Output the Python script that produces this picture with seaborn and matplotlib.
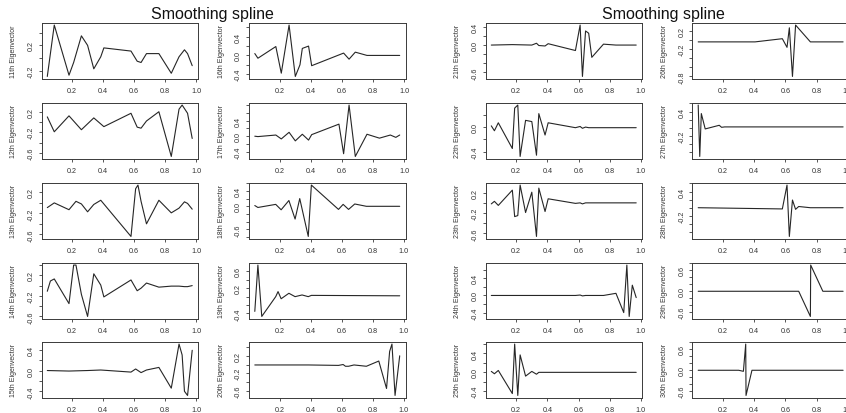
import matplotlib
matplotlib.use("Agg")
import matplotlib.pyplot as plt
import seaborn as sns

# ---------------- data ----------------
x_ticks = [0.2, 0.4, 0.6, 0.8, 1.0]
tick_grid = [-0.8, -0.6, -0.4, -0.2, 0.0, 0.2, 0.4, 0.6, 0.8]
title_text = "Smoothing spline"

x11 = [0.04, 0.085, 0.18, 0.21, 0.26, 0.30, 0.34, 0.385, 0.405, 0.58, 0.62, 0.645, 0.68, 0.76, 0.84, 0.89, 0.925, 0.945, 0.975]
y11 = [-0.29, 0.52, -0.27, -0.07, 0.35, 0.20, -0.17, 0.02, 0.16, 0.11, -0.05, -0.07, 0.07, 0.07, -0.24, 0.02, 0.13, 0.07, -0.12]

x12 = [0.04, 0.085, 0.18, 0.26, 0.34, 0.405, 0.58, 0.62, 0.645, 0.68, 0.76, 0.84, 0.89, 0.91, 0.945, 0.975]
y12 = [0.10, -0.19, 0.12, -0.15, 0.08, -0.09, 0.17, -0.10, -0.12, 0.02, 0.20, -0.67, 0.25, 0.33, 0.17, -0.32]

x13 = [0.04, 0.085, 0.18, 0.225, 0.26, 0.30, 0.34, 0.385, 0.58, 0.61, 0.625, 0.645, 0.68, 0.76, 0.84, 0.89, 0.925, 0.945, 0.975]
y13 = [-0.09, 0.0, -0.13, 0.03, -0.02, -0.17, -0.03, 0.05, -0.64, 0.27, 0.34, 0.03, -0.40, 0.05, -0.19, -0.10, 0.02, -0.01, -0.12]

x14 = [0.04, 0.06, 0.085, 0.18, 0.21, 0.225, 0.26, 0.30, 0.34, 0.385, 0.405, 0.58, 0.62, 0.645, 0.68, 0.76, 0.84, 0.89, 0.925, 0.945, 0.975]
y14 = [-0.11, 0.09, 0.13, -0.35, 0.40, 0.40, -0.17, -0.60, 0.23, 0.01, -0.22, 0.11, -0.10, -0.05, 0.05, -0.03, -0.01, -0.01, -0.02, -0.02, 0.0]

x15 = [0.04, 0.18, 0.30, 0.385, 0.58, 0.61, 0.645, 0.68, 0.76, 0.84, 0.89, 0.91, 0.925, 0.945, 0.975]
y15 = [0.0, -0.01, 0.0, 0.01, -0.03, 0.03, -0.04, 0.01, 0.06, -0.34, 0.51, 0.30, -0.40, -0.48, 0.39]

x16 = [0.04, 0.06, 0.175, 0.21, 0.26, 0.30, 0.33, 0.345, 0.385, 0.405, 0.61, 0.645, 0.685, 0.76, 0.97]
y16 = [0.04, -0.06, 0.19, -0.38, 0.65, -0.45, -0.20, 0.15, 0.20, -0.22, 0.05, -0.08, 0.07, 0.0, 0.0]

x17 = [0.04, 0.06, 0.175, 0.21, 0.26, 0.30, 0.345, 0.385, 0.405, 0.58, 0.61, 0.645, 0.685, 0.76, 0.84, 0.91, 0.945, 0.97]
y17 = [0.0, -0.01, 0.03, -0.07, 0.10, -0.12, 0.05, -0.10, 0.04, 0.31, -0.45, 0.80, -0.52, 0.05, -0.05, 0.03, -0.03, 0.03]

x18 = [0.04, 0.06, 0.175, 0.21, 0.26, 0.30, 0.33, 0.385, 0.405, 0.58, 0.61, 0.645, 0.685, 0.76, 0.975]
y18 = [0.02, -0.03, 0.05, -0.09, 0.15, -0.33, 0.20, -0.78, 0.55, -0.08, 0.05, -0.08, 0.06, 0.0, 0.0]

x19 = [0.04, 0.06, 0.085, 0.175, 0.19, 0.21, 0.26, 0.30, 0.345, 0.385, 0.405, 0.975]
y19 = [-0.35, 0.75, -0.47, 0.0, 0.12, -0.05, 0.08, 0.0, 0.04, 0.0, 0.03, 0.02]

x20 = [0.04, 0.385, 0.58, 0.61, 0.625, 0.645, 0.68, 0.76, 0.84, 0.89, 0.91, 0.925, 0.945, 0.975]
y20 = [-0.01, -0.01, -0.02, 0.0, -0.04, -0.04, -0.01, -0.04, 0.08, -0.55, 0.30, 0.47, -0.71, 0.20]

x21 = [0.04, 0.175, 0.30, 0.33, 0.345, 0.385, 0.405, 0.58, 0.61, 0.625, 0.645, 0.665, 0.685, 0.76, 0.84, 0.97]
y21 = [0.0, 0.01, 0.0, 0.04, -0.01, -0.02, 0.03, -0.12, 0.44, -0.69, 0.31, 0.26, -0.27, 0.02, 0.0, 0.0]

x22 = [0.04, 0.06, 0.085, 0.175, 0.19, 0.21, 0.225, 0.26, 0.30, 0.33, 0.345, 0.385, 0.405, 0.58, 0.61, 0.625, 0.645, 0.665, 0.97]
y22 = [0.02, -0.06, 0.07, -0.35, 0.31, 0.36, -0.48, 0.11, 0.09, -0.46, 0.22, -0.13, 0.07, -0.01, 0.01, -0.02, 0.0, -0.01, -0.01]

x23 = [0.04, 0.06, 0.085, 0.175, 0.19, 0.21, 0.225, 0.26, 0.30, 0.33, 0.345, 0.385, 0.405, 0.58, 0.61, 0.625, 0.645, 0.97]
y23 = [-0.02, 0.03, -0.05, 0.25, -0.27, -0.25, 0.35, -0.19, 0.21, -0.66, 0.29, -0.17, 0.08, -0.01, 0.0, -0.02, 0.0, 0.0]

x24 = [0.04, 0.58, 0.61, 0.625, 0.645, 0.665, 0.76, 0.84, 0.89, 0.91, 0.925, 0.945, 0.97]
y24 = [0.0, 0.0, 0.01, -0.01, 0.0, 0.0, 0.0, 0.05, -0.40, 0.71, -0.49, 0.24, -0.05]

x25 = [0.04, 0.06, 0.085, 0.175, 0.19, 0.21, 0.225, 0.26, 0.30, 0.33, 0.345, 0.385, 0.97]
y25 = [0.02, -0.03, 0.04, -0.45, 0.60, -0.49, 0.37, -0.08, 0.02, -0.04, 0.0, 0.0, 0.0]

x26 = [0.04, 0.405, 0.58, 0.61, 0.625, 0.645, 0.665, 0.76, 0.97]
y26 = [-0.04, -0.04, 0.03, -0.16, 0.27, -0.80, 0.33, -0.04, -0.04]

x27 = [0.04, 0.05, 0.06, 0.085, 0.175, 0.19, 0.21, 0.97]
y27 = [0.56, -0.71, 0.35, -0.03, 0.06, 0.01, 0.02, 0.02]

x28 = [0.04, 0.58, 0.61, 0.625, 0.645, 0.665, 0.685, 0.76, 0.97]
y28 = [0.0, -0.03, 0.56, -0.71, 0.19, -0.04, 0.03, 0.0, 0.0]

x29 = [0.04, 0.685, 0.76, 0.762, 0.84, 0.97]
y29 = [0.0, 0.0, -0.72, 0.75, 0.0, 0.0]

x30 = [0.04, 0.30, 0.33, 0.345, 0.347, 0.385, 0.97]
y30 = [0.0, 0.0, -0.03, 0.75, -0.72, 0.0, 0.0]

labels_shown = {
    11: [-0.2, 0.2], 12: [-0.6, -0.2, 0.2], 13: [-0.6, -0.2, 0.2], 14: [-0.6, -0.2, 0.2],
    15: [-0.4, 0.0, 0.4], 16: [-0.4, 0.0, 0.4], 17: [-0.4, 0.0, 0.4], 18: [-0.6, 0.0, 0.4],
    19: [-0.4, 0.2, 0.6], 20: [-0.6, -0.2, 0.2],
    21: [-0.6, 0.0, 0.4], 22: [-0.4, 0.0, 0.4], 23: [-0.6, -0.2, 0.2], 24: [-0.4, 0.0, 0.4],
    25: [-0.4, 0.0, 0.4], 26: [-0.8, -0.2, 0.2], 27: [-0.8, -0.2, 0.4], 28: [-0.8, -0.2, 0.4],
    29: [-0.6, 0.0, 0.6], 30: [-0.6, 0.0, 0.6],
}

series = {
    11: (x11, y11), 12: (x12, y12), 13: (x13, y13), 14: (x14, y14), 15: (x15, y15),
    16: (x16, y16), 17: (x17, y17), 18: (x18, y18), 19: (x19, y19), 20: (x20, y20),
    21: (x21, y21), 22: (x22, y22), 23: (x23, y23), 24: (x24, y24), 25: (x25, y25),
    26: (x26, y26), 27: (x27, y27), 28: (x28, y28), 29: (x29, y29), 30: (x30, y30),
}

# ---------------- style ----------------
sns.set_style("ticks")
plt.rcParams['font.family'] = ['Liberation Sans', 'DejaVu Sans']

W, H = 846, 414
fig = plt.figure(figsize=(W / 100, H / 100), dpi=100)
fig.patch.set_facecolor("white")

col_left = [41.5, 249.0, 485.5, 692.4]
col_w = 156.5
row_top = [24, 104, 184, 264, 343]
row_h = 55.5

line_col = "#262626"
axis_col = "#3a3a3a"


def pad(lo, hi):
    r = hi - lo
    return lo - 0.04 * r, hi + 0.04 * r


for n, (xs, ys) in series.items():
    k = n - 11
    col = k // 5
    row = k % 5
    l = col_left[col]
    t = row_top[row]
    ax = fig.add_axes([l / W, 1 - (t + row_h) / H, col_w / W, row_h / H])
    sns.lineplot(x=xs, y=ys, ax=ax, sort=False, estimator=None,
                 color=line_col, linewidth=0.8)
    xlo, xhi = pad(min(xs), max(xs))
    ylo, yhi = pad(min(ys), max(ys))
    ax.set_xticks(x_ticks)
    ax.set_xticklabels([f"{v:.1f}" for v in x_ticks])
    yt = [v for v in tick_grid if ylo <= v <= yhi]
    ax.set_yticks(yt)
    ax.set_yticklabels([(f"{v:.1f}" if any(abs(v - s) < 1e-9 for s in labels_shown[n]) else "")
                        for v in yt])
    ax.set_xlim(xlo, xhi)
    ax.set_ylim(ylo, yhi)
    for sp in ax.spines.values():
        sp.set_visible(True)
        sp.set_color(axis_col)
        sp.set_linewidth(0.7)
    ax.tick_params(axis="both", direction="out", length=2.5, width=0.6,
                   colors=axis_col, labelsize=5.2, labelcolor="#333333")
    ax.tick_params(axis="x", pad=3.5)
    ax.tick_params(axis="y", pad=2.5, labelrotation=90)
    for lab in ax.get_yticklabels():
        lab.set_va("center")
    ax.set_xlabel("")
    ax.set_ylabel(f"{n}th Eigenvector", fontsize=5, color="#333333", va="center")
    ax.yaxis.set_label_coords(-28 / col_w, 0.5)
    ax.grid(False)

fig.text(212 / W, 1 - 14 / H, title_text, ha="center", va="center", fontsize=11.5, color="#111111")
fig.text(663 / W, 1 - 14 / H, title_text, ha="center", va="center", fontsize=11.5, color="#111111")

fig.savefig("out.png", dpi=100, facecolor="white")
